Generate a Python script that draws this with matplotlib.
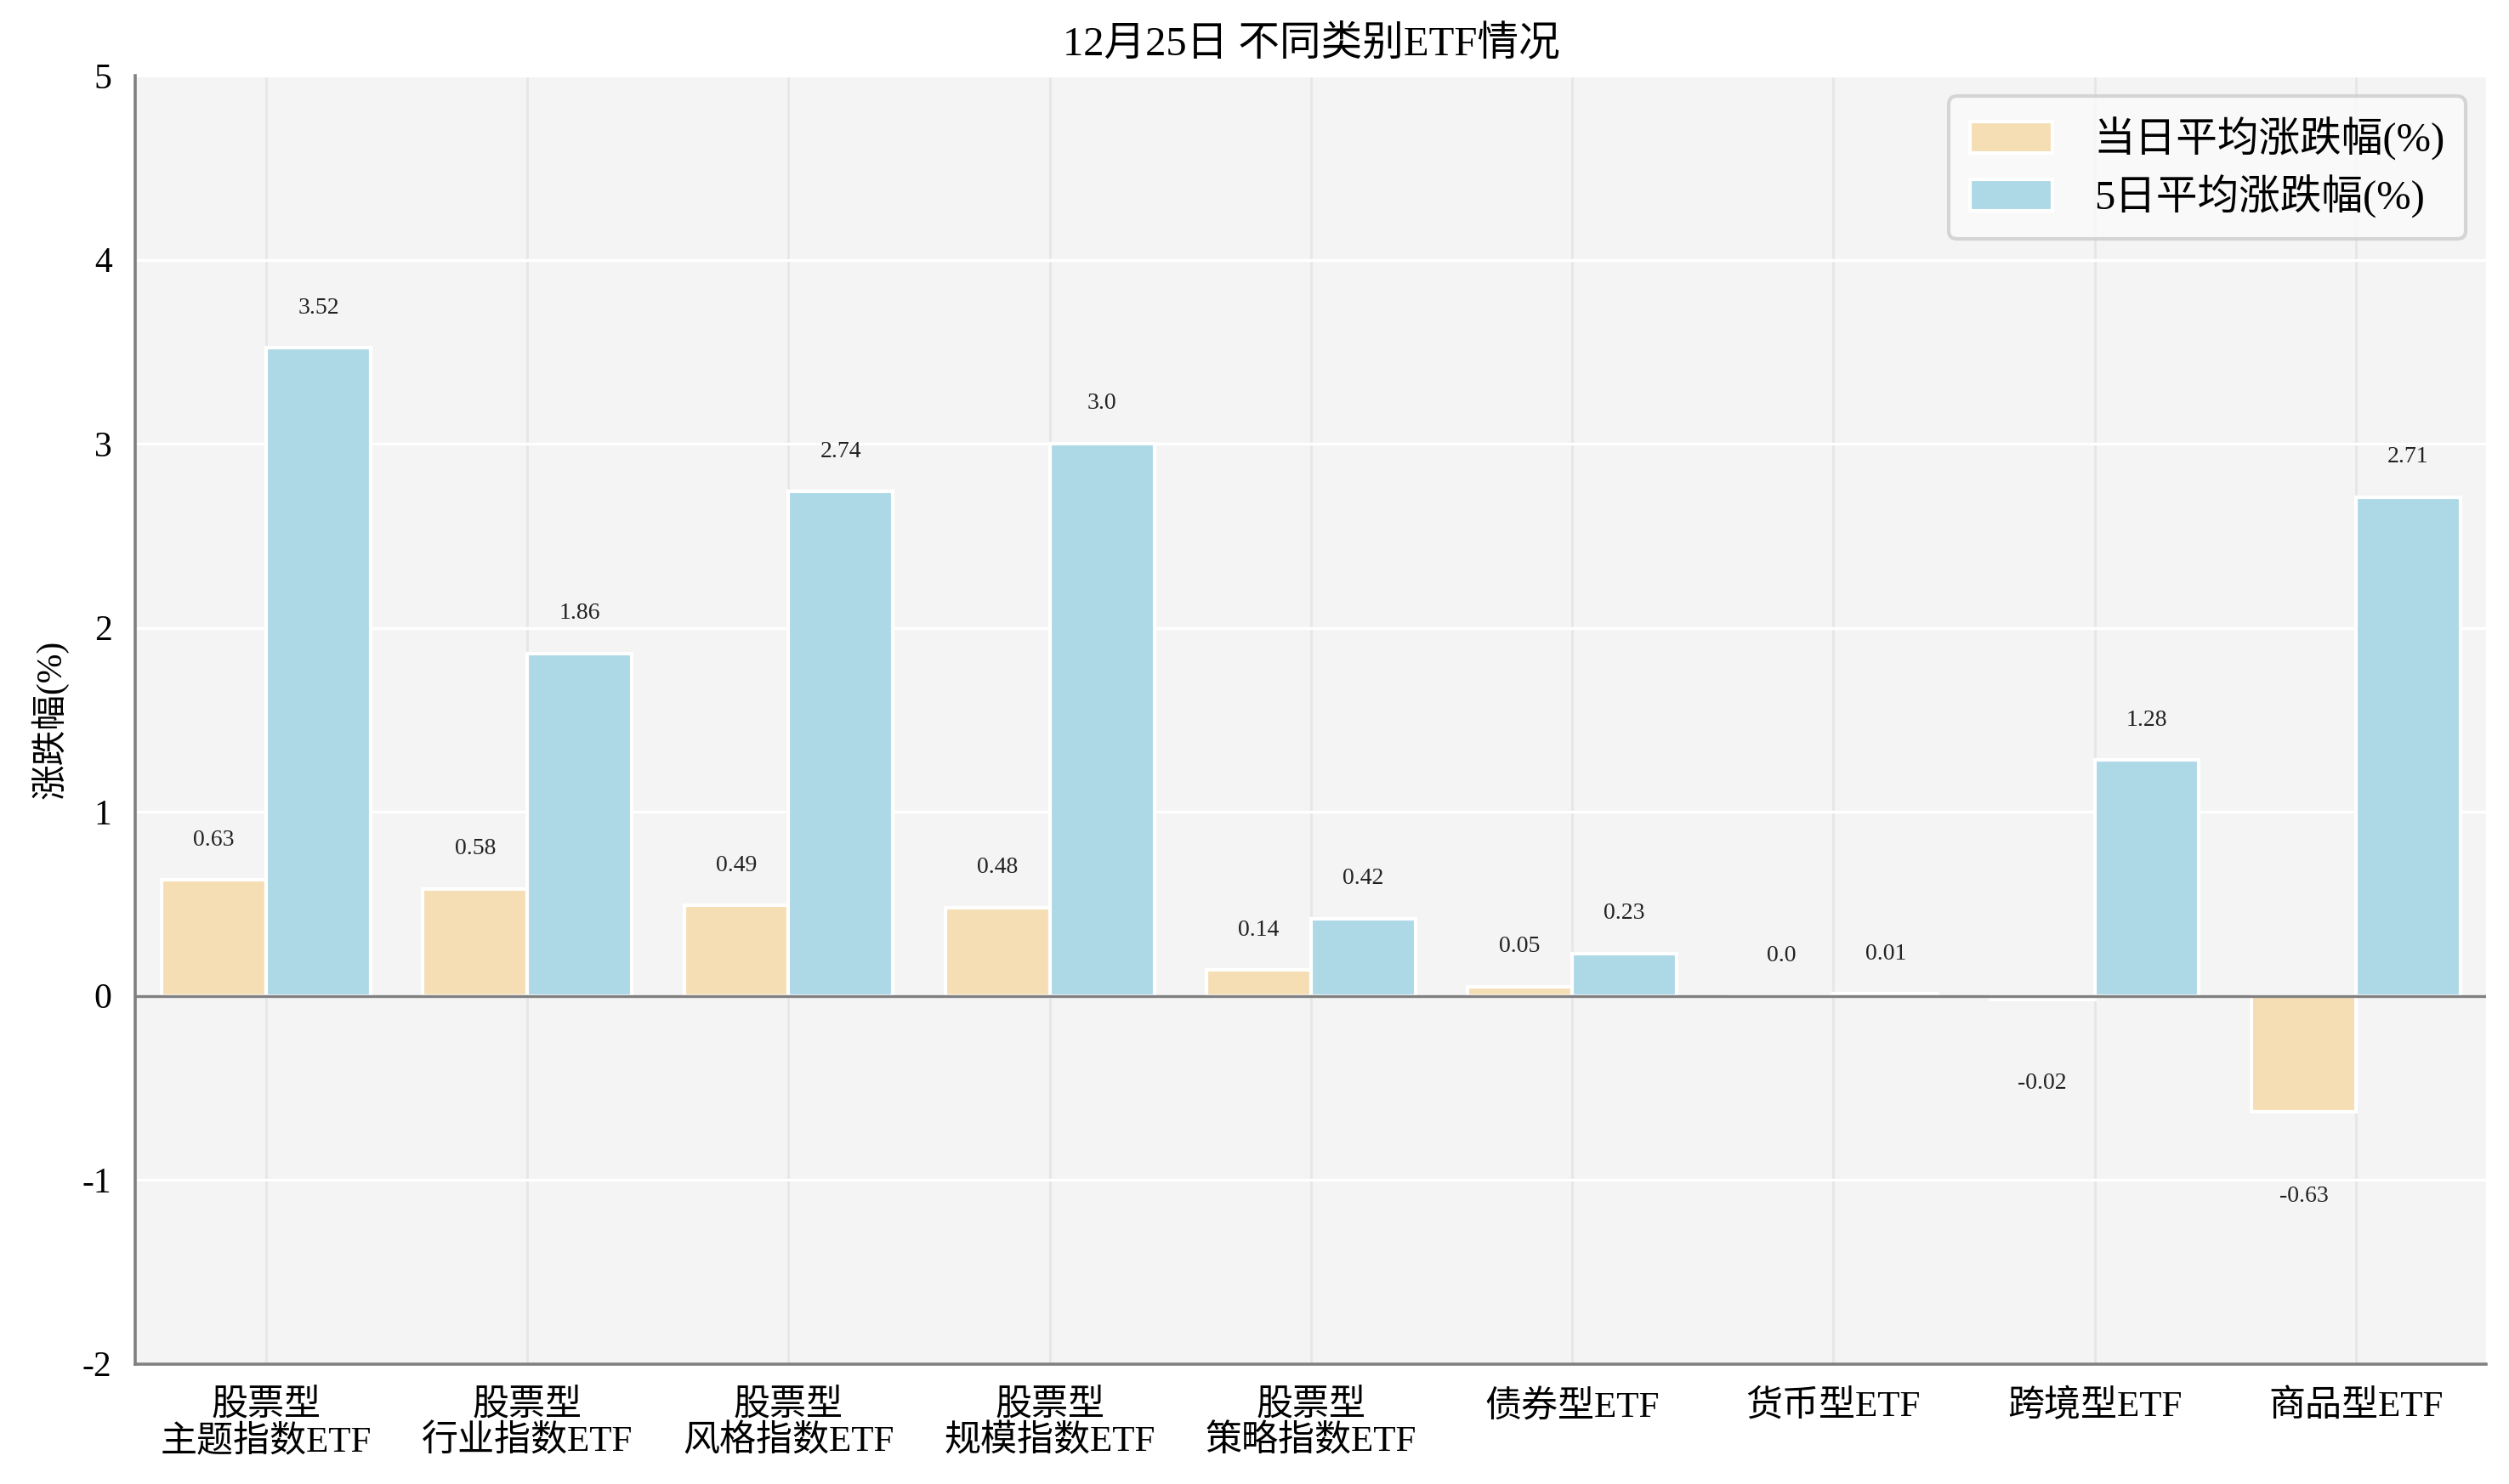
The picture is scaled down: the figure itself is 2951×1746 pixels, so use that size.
import matplotlib
matplotlib.use("Agg")
import matplotlib.pyplot as plt
import numpy as np

plt.rcParams['font.family'] = ['Liberation Serif', 'Noto Sans CJK SC', 'DejaVu Sans']
plt.rcParams['axes.unicode_minus'] = False

categories = ['股票型\n主题指数ETF', '股票型\n行业指数ETF', '股票型\n风格指数ETF', '股票型\n规模指数ETF',
              '股票型\n策略指数ETF', '债券型ETF', '货币型ETF', '跨境型ETF', '商品型ETF']
day_change = [0.63, 0.58, 0.49, 0.48, 0.14, 0.05, 0.0, -0.02, -0.63]
week_change = [3.52, 1.86, 2.74, 3.0, 0.42, 0.23, 0.01, 1.28, 2.71]
series_names = ['当日平均涨跌幅(%)', '5日平均涨跌幅(%)']
title = '12月25日 不同类别ETF情况'
ylabel = '涨跌幅(%)'

fig = plt.figure(figsize=(14.755, 8.73), dpi=200)
ax = fig.add_axes([0.054, 0.081, 0.937, 0.868])
ax.set_facecolor('#f4f4f4')

x = np.arange(len(categories))
w = 0.4
b1 = ax.bar(x - w/2, day_change, w, color='#F5DEB3', edgecolor='white', linewidth=1.5, label=series_names[0], zorder=3)
b2 = ax.bar(x + w/2, week_change, w, color='#ADD8E6', edgecolor='white', linewidth=1.5, label=series_names[1], zorder=3)

for bars, vals in ((b1, day_change), (b2, week_change)):
    for rect, v in zip(bars, vals):
        cx = rect.get_x() + rect.get_width()/2
        if v >= 0:
            ax.text(cx, v + 0.16, f'{v}', ha='center', va='bottom', fontsize=10, color='#222222', zorder=4)
        else:
            ax.text(cx, v - 0.40, f'{v}', ha='center', va='top', fontsize=10, color='#222222', zorder=4)

ax.axhline(0, color='#808080', linewidth=1.2, zorder=4)
ax.set_xlim(-0.5, len(categories) - 0.5)
ax.set_ylim(-2, 5)
ax.set_yticks(range(-2, 6))
ax.set_xticks(x)
ax.set_xticklabels(categories, fontsize=15.5, linespacing=1.05)
ax.tick_params(axis='y', labelsize=15, length=0, pad=10)
ax.tick_params(axis='x', length=0, pad=11)
ax.grid(axis='y', color='white', linewidth=1.2, zorder=1)
ax.grid(axis='x', color='#e6e6e6', linewidth=1.0, zorder=1)
ax.set_axisbelow(True)

for s in ('top', 'right'):
    ax.spines[s].set_visible(False)
for s in ('left', 'bottom'):
    ax.spines[s].set_color('#808080')
    ax.spines[s].set_linewidth(1.3)

ax.set_ylabel(ylabel, fontsize=15, labelpad=6)
ax.set_title(title, fontsize=17.5, pad=9)

leg = ax.legend(loc='upper right', fontsize=17.5, frameon=True, fancybox=True,
                borderpad=0.5, handlelength=2.0, handleheight=0.8, handletextpad=1.0,
                labelspacing=0.35, borderaxespad=0.5)
leg.get_frame().set_edgecolor('#cccccc')
leg.get_frame().set_facecolor('#fbfbfb')
leg.get_frame().set_linewidth(1.5)

fig.savefig('out.png', dpi=200)
